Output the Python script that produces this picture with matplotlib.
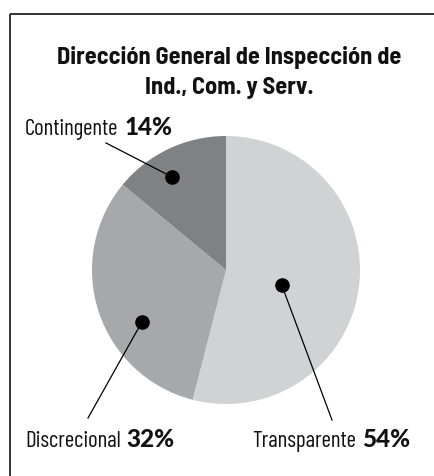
import matplotlib
matplotlib.use("Agg")
import numpy as np
import matplotlib.pyplot as plt
from matplotlib import font_manager as fm

# data
categories = ["Transparente", "Discrecional", "Contingente"]
shares = [54, 32, 14]
title_lines = ["Dirección General de Inspección de", "Ind., Com. y Serv."]

# styling / layout (figure pixels, y up)
colors = ["#d1d2d4", "#a7a8ab", "#808184"]
W, H = 435, 476
center = (226, 206)
radius = 134
# where the dot sits inside each wedge: (fraction of the sweep, fraction of radius)
dot_pos = [(0.46, 0.43), (0.62, 0.74), (0.595, 0.80)]
leader_end = [(332, 56), (88, 58), (106, 333)]
label_pos = [(252, 29), (25, 29), (25, 341)]  # left edge, baseline

title_font = ["Barlow Semi Condensed", "Barlow Condensed", "DejaVu Sans"]
label_font = ["Barlow Condensed", "DejaVu Sans"]


def heavy_font():
    # look for a wide black weight for the percentages
    for fam in ["Montserrat", "Lato", "Poppins", "Work Sans", "Barlow", "Roboto"]:
        hits = [f for f in fm.fontManager.ttflist
                if f.name == fam and f.style == "normal" and f.stretch == "normal"
                and isinstance(f.weight, int) and f.weight >= 800]
        if hits:
            best = max(hits, key=lambda f: f.weight)
            return fm.FontProperties(fname=best.fname, size=17.5)
    return fm.FontProperties(family="DejaVu Sans", weight="bold", size=15.5)


pct_prop = heavy_font()

fig = plt.figure(figsize=(W / 100, H / 100), dpi=100)
ax = fig.add_axes([0, 0, 1, 1])
ax.axis("off")

wedges, _ = ax.pie(shares, colors=colors, startangle=90, counterclock=False,
                   center=center, radius=radius, wedgeprops=dict(linewidth=0))
ax.set_xlim(0, W)
ax.set_ylim(0, H)
ax.set_aspect("auto")

# frame: top and left rules only
ax.plot([10, W], [H - 14, H - 14], color="#333333", lw=1.4, solid_capstyle="butt")
ax.plot([10, 10], [0, H - 14], color="#333333", lw=1.4, solid_capstyle="butt")

for t, y in zip(title_lines, [H - 64, H - 94]):
    ax.text(229, y, t, ha="center", va="baseline", fontsize=17.5,
            family=title_font, fontweight="bold", color="#111111")

renderer = fig.canvas.get_renderer()
for w, (f, rf), end, (lx, ly), name, val in zip(wedges, dot_pos, leader_end,
                                                 label_pos, categories, shares):
    ang = np.deg2rad(w.theta1 + f * (w.theta2 - w.theta1))
    dx = center[0] + rf * radius * np.cos(ang)
    dy = center[1] + rf * radius * np.sin(ang)
    ax.plot([dx, end[0]], [dy, end[1]], color="black", lw=0.9)
    ax.plot(dx, dy, "o", color="black", markersize=9.5)
    t1 = ax.text(lx, ly, name, ha="left", va="baseline", fontsize=16.5,
                 family=label_font, fontweight=400, color="#111111")
    bb = t1.get_window_extent(renderer)
    ax.text(bb.x1 + 6, ly, f"{val}%", ha="left", va="baseline",
            fontproperties=pct_prop, color="#111111")

fig.savefig("out.png", dpi=100)
